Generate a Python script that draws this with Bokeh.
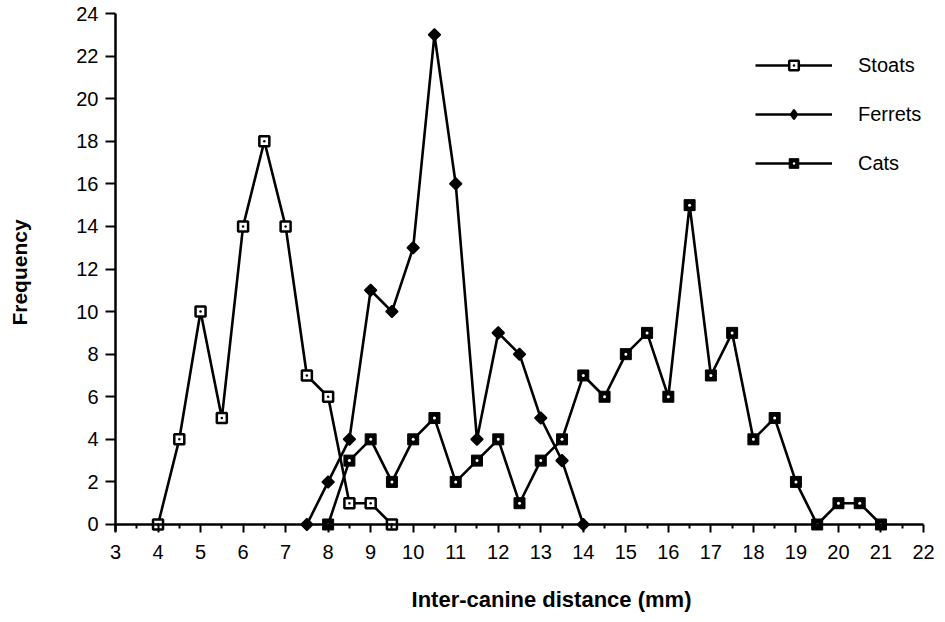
import numpy as np
from bokeh.plotting import figure
from bokeh.models import Legend, LegendItem, FixedTicker, Range1d, LinearAxis
from bokeh.embed import file_html
from bokeh.resources import INLINE

# ---- data ----
stoats_x = [4, 4.5, 5, 5.5, 6, 6.5, 7, 7.5, 8, 8.5, 9, 9.5]
stoats_y = [0, 4, 10, 5, 14, 18, 14, 7, 6, 1, 1, 0]

ferrets_x = [7.5, 8, 8.5, 9, 9.5, 10, 10.5, 11, 11.5, 12, 12.5, 13, 13.5, 14]
ferrets_y = [0, 2, 4, 11, 10, 13, 23, 16, 4, 9, 8, 5, 3, 0]

cats_x = [8, 8.5, 9, 9.5, 10, 10.5, 11, 11.5, 12, 12.5, 13, 13.5, 14, 14.5,
          15, 15.5, 16, 16.5, 17, 17.5, 18, 18.5, 19, 19.5, 20, 20.5, 21]
cats_y = [0, 3, 4, 2, 4, 5, 2, 3, 4, 1, 3, 4, 7, 6,
          8, 9, 6, 15, 7, 9, 4, 5, 2, 0, 1, 1, 0]

x_ticks = list(range(3, 23))
x_minor = [t + 0.5 for t in x_ticks[:-1]]
y_ticks = list(range(0, 25, 2))

FONT = "Liberation Sans"

# frame covers the whole canvas; axes are pinned at x = 3 and y = 0
p = figure(
    frame_width=937, frame_height=618,
    x_range=Range1d(0.2958, 22.329), y_range=Range1d(-4.4149, 24.6106),
    output_backend="svg", toolbar_location=None,
    min_border_left=0, min_border_right=0, min_border_top=0, min_border_bottom=0,
)
p.outline_line_color = None
p.xgrid.visible = False
p.ygrid.visible = False
p.background_fill_color = "white"

# x axis (drawn at y = 0)
xa = p.xaxis[0]
xa.fixed_location = 0
xa.bounds = (3, 22)
xa.ticker = FixedTicker(ticks=x_ticks, minor_ticks=x_minor)
xa.axis_line_width = 2.5
xa.axis_line_color = "black"
xa.major_tick_line_width = 2
xa.major_tick_out = 8
xa.major_tick_in = 0
xa.minor_tick_line_width = 2
xa.minor_tick_out = 4
xa.minor_tick_in = 0
xa.major_label_text_font = FONT
xa.major_label_text_font_size = "20px"
xa.major_label_text_color = "black"
xa.major_label_standoff = 13

# second x axis carrying only the title, centred like the reference
xt = LinearAxis(
    fixed_location=0, bounds=(4.5, 22),
    ticker=FixedTicker(ticks=x_ticks, minor_ticks=[]),
    axis_line_color=None, major_tick_line_color=None, minor_tick_line_color=None,
    major_tick_out=8, major_tick_in=0, minor_tick_out=0, minor_tick_in=0,
    major_label_text_font=FONT, major_label_text_font_size="20px",
    major_label_text_alpha=0, major_label_standoff=13,
    axis_label="Inter-canine distance (mm)", axis_label_text_font=FONT,
    axis_label_text_font_style="bold", axis_label_text_font_size="22px",
    axis_label_text_color="black", axis_label_standoff=54,
)
p.add_layout(xt, "below")

# y axis (drawn at x = 3)
ya = p.yaxis[0]
ya.fixed_location = 3
ya.bounds = (-0.35, 24)
ya.ticker = FixedTicker(ticks=y_ticks, minor_ticks=[])
ya.axis_line_width = 2.5
ya.axis_line_color = "black"
ya.major_tick_line_width = 2
ya.major_tick_out = 10
ya.major_tick_in = 0
ya.minor_tick_out = 0
ya.minor_tick_in = 0
ya.major_label_text_font = FONT
ya.major_label_text_font_size = "20px"
ya.major_label_text_color = "black"
ya.major_label_standoff = 7
ya.axis_label = "Frequency"
ya.axis_label_text_font = FONT
ya.axis_label_text_font_style = "bold"
ya.axis_label_text_font_size = "21px"
ya.axis_label_text_color = "black"
ya.axis_label_standoff = 42

LW = 2.6

# Stoats: open square with centre dot
s_line = p.line(stoats_x, stoats_y, line_color="black", line_width=LW)
s_mark = p.scatter(stoats_x, stoats_y, marker="square_dot", size=10,
                   fill_color="white", line_color="black", line_width=2.5)

# Ferrets: filled diamond
f_line = p.line(ferrets_x, ferrets_y, line_color="black", line_width=LW)
f_mark = p.scatter(ferrets_x, ferrets_y, marker="square", size=8.5, angle=np.pi / 4,
                   fill_color="black", line_color="black", line_width=1.5)
# same points, zero size: only provides the diamond symbol for the legend
f_leg = p.scatter(ferrets_x, ferrets_y, marker="diamond", size=0,
                  fill_color="black", line_color="black", line_width=2)

# Cats: filled square with white centre dot
c_line = p.line(cats_x, cats_y, line_color="black", line_width=LW)
c_mark = p.scatter(cats_x, cats_y, marker="square", size=11,
                   fill_color="black", line_color="black", line_width=1)
c_dot = p.scatter(cats_x, cats_y, marker="dot", size=12, line_color="white")

legend = Legend(
    items=[
        LegendItem(label="Stoats", renderers=[s_line, s_mark]),
        LegendItem(label="Ferrets", renderers=[f_line, f_leg]),
        LegendItem(label="Cats", renderers=[c_line, c_mark, c_dot]),
    ],
    location=(755, 443),
    glyph_width=77, glyph_height=24, label_height=24,
    label_standoff=26, spacing=25, padding=0, margin=0,
    border_line_color=None, background_fill_alpha=0,
    label_text_font=FONT, label_text_font_size="20px", label_text_color="black",
)
p.add_layout(legend, "center")

open("out.html", "w").write(file_html(p, INLINE))
